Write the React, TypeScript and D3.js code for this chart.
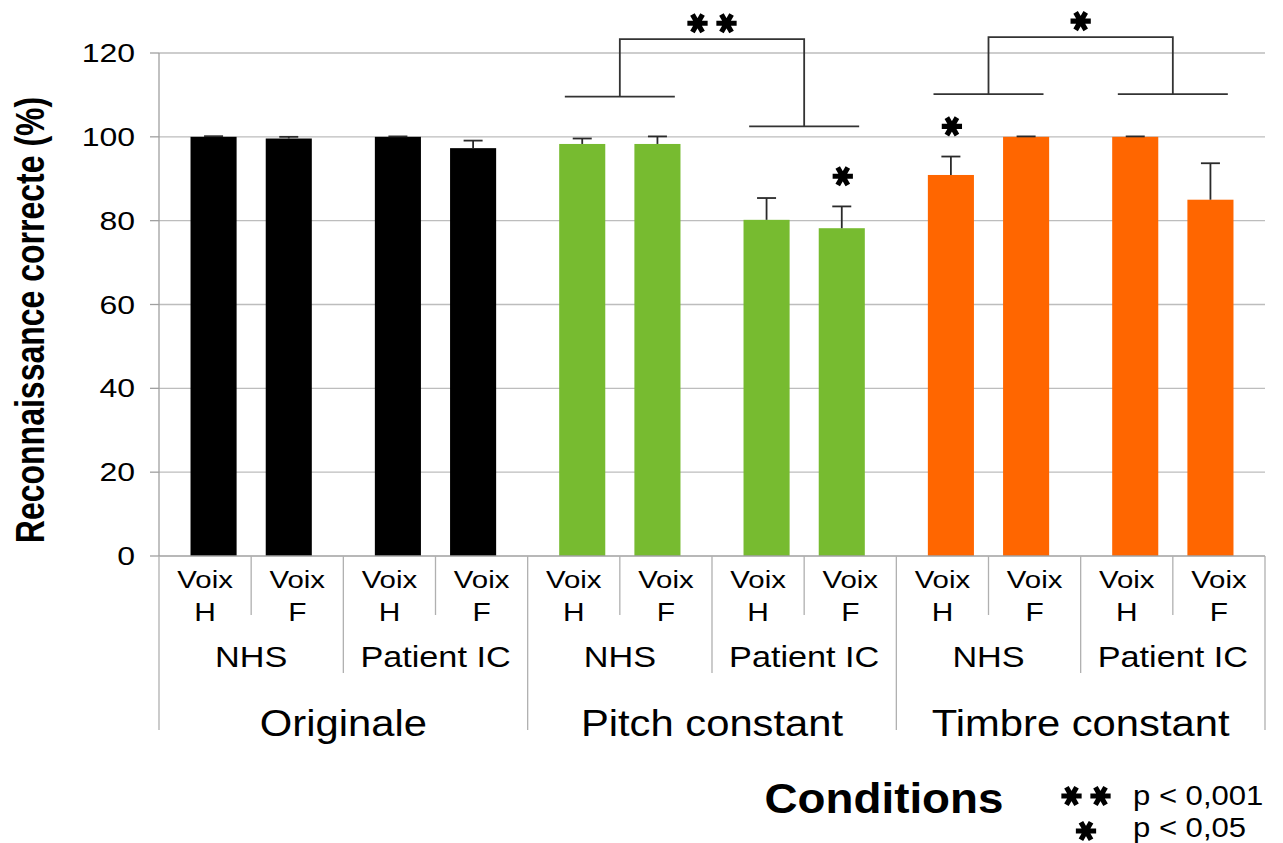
import React from 'react';
import * as d3 from 'd3';

const conditions = ['Originale', 'Pitch constant', 'Timbre constant'];
const populations = ['NHS', 'Patient IC'];
const voices = ['H', 'F'];
const originaleMeans = [100, 99.6, 100, 97.3];
const originaleErrors = [0.15, 0.4, 0.1, 1.8];
const pitchMeans = [98.3, 98.3, 80.2, 78.2];
const pitchErrors = [1.3, 1.8, 5.2, 5.2];
const timbreMeans = [90.9, 100, 100, 85.0];
const timbreErrors = [4.4, 0.1, 0.1, 8.7];
const yTicks = [0, 20, 40, 60, 80, 100, 120];
const conditionColors = ['#000000', '#77bb30', '#ff6600'];
const brackets = [
  { condition: 'Pitch constant', left: 109.6, right: 102.5, top: 123.3, mark: 2 },
  { condition: 'Timbre constant', left: 110.2, right: 110.2, top: 123.8, mark: 1 },
];
const barStars = [
  { condition: 'Pitch constant', population: 'Patient IC', voice: 'F' },
  { condition: 'Timbre constant', population: 'NHS', voice: 'H' },
];
const legendItems = [
  { mark: 2, text: 'p < 0,001' },
  { mark: 1, text: 'p < 0,05' },
];

const FONT = '"Liberation Sans", Arial, Helvetica, sans-serif';

const meansBy = [originaleMeans, pitchMeans, timbreMeans];
const errorsBy = [originaleErrors, pitchErrors, timbreErrors];

type Row = { condition: string; population: string; voice: string; mean: number; err: number; color: string };
const rows: Row[] = [];
conditions.forEach((c, ci) =>
  populations.forEach((p, pi) =>
    voices.forEach((v, vi) => {
      rows.push({ condition: c, population: p, voice: v, mean: meansBy[ci][pi * 2 + vi], err: errorsBy[ci][pi * 2 + vi], color: conditionColors[ci] });
    })
  )
);

const X0 = 159;
const X1 = 1265;
const y = d3.scaleLinear().domain([0, 120]).range([556, 53]);
const pairKeys = conditions.flatMap((c) => populations.map((p) => `${c}|${p}`));
const catKeys = pairKeys.flatMap((k) => voices.map((v) => `${k}|${v}`));
const xCond = d3.scaleBand<string>().domain(conditions).range([X0, X1]);
const xPair = d3.scaleBand<string>().domain(pairKeys).range([X0, X1]);
const xCat = d3.scaleBand<string>().domain(catKeys).range([X0, X1]);
const pbw = xPair.bandwidth();
const barW = pbw * 0.25;
const pairCenter = (c: string, p: string) => (xPair(`${c}|${p}`) as number) + pbw / 2;
const barCenter = (c: string, p: string, v: string) => pairCenter(c, p) + (v === 'H' ? -1 : 1) * pbw * 0.204;

const starPath = d3.symbol().type(d3.symbolAsterisk).size(290)() as string;

function Star({ cx, cy }: { cx: number; cy: number }) {
  return (
    <path d={starPath} transform={`translate(${cx},${cy}) rotate(90)`} fill="none" stroke="#000" strokeWidth={5.2} />
  );
}

function Stars({ cx, cy, n }: { cx: number; cy: number; n: number }) {
  const gap = 29;
  return (
    <g>
      {d3.range(n).map((i) => (
        <Star key={i} cx={cx + (i - (n - 1) / 2) * gap} cy={cy} />
      ))}
    </g>
  );
}

function SText({ x, y: yy, sx = 1, size, anchor = 'middle', weight = 'normal', children }: any) {
  return (
    <text
      transform={`translate(${x},${yy}) scale(${sx},1)`}
      textAnchor={anchor}
      fontSize={size}
      fontWeight={weight}
      fontFamily={FONT}
      fill="#000"
    >
      {children}
    </text>
  );
}

export default function App() {
  const axisBottom = y(0);
  const boundaries = catKeys.map((k) => xCat(k) as number).concat([X1]);
  return (
    <svg width={1283} height={843} style={{ position: 'absolute', left: 0, top: 0, background: '#fff' }}>
      <rect width={1283} height={843} fill="#fff" />
      {/* gridlines */}
      {yTicks.filter((t) => t > 0).map((t) => (
        <line key={t} x1={X0} x2={X1} y1={y(t)} y2={y(t)} stroke="#bdbdbd" strokeWidth={1.3} />
      ))}
      {/* y axis */}
      <line x1={X0} x2={X0} y1={y(120)} y2={axisBottom} stroke="#a0a0a0" strokeWidth={1.3} />
      {yTicks.map((t) => (
        <g key={t}>
          <line x1={X0 - 9} x2={X0} y1={y(t)} y2={y(t)} stroke="#a0a0a0" strokeWidth={1.3} />
          <SText x={135} y={y(t) + 9} sx={1.28} size={25} anchor="end">{t}</SText>
        </g>
      ))}
      {/* bars */}
      {rows.map((r, i) => {
        const cx = barCenter(r.condition, r.population, r.voice);
        return <rect key={i} x={cx - barW / 2} y={y(r.mean)} width={barW} height={axisBottom - y(r.mean)} fill={r.color} />;
      })}
      {/* error bars */}
      {rows.map((r, i) => {
        const cx = barCenter(r.condition, r.population, r.voice);
        return (
          <g key={i} stroke="#2a2a2a" strokeWidth={1.8}>
            <line x1={cx} x2={cx} y1={y(r.mean)} y2={y(r.mean + r.err)} />
            <line x1={cx - 9.5} x2={cx + 9.5} y1={y(r.mean + r.err)} y2={y(r.mean + r.err)} />
          </g>
        );
      })}
      {/* x axis line */}
      <line x1={X0} x2={X1} y1={axisBottom} y2={axisBottom} stroke="#a0a0a0" strokeWidth={1.3} />
      {/* category separators */}
      {boundaries.map((bx, i) => {
        const len = i % 4 === 0 ? 174 : i % 2 === 0 ? 117 : 59;
        return <line key={i} x1={bx} x2={bx} y1={axisBottom} y2={axisBottom + len} stroke="#b0b0b0" strokeWidth={1.3} />;
      })}
      {/* voice labels */}
      {rows.map((r, i) => {
        const cx = (xCat(`${r.condition}|${r.population}|${r.voice}`) as number) + xCat.bandwidth() / 2;
        return (
          <g key={i}>
            <SText x={cx} y={588} sx={1.2} size={24.5}>Voix</SText>
            <SText x={cx} y={621} sx={1.15} size={26}>{r.voice}</SText>
          </g>
        );
      })}
      {/* population labels */}
      {conditions.flatMap((c) =>
        populations.map((p) => (
          <SText key={c + p} x={pairCenter(c, p)} y={667} sx={1.18} size={29}>{p}</SText>
        ))
      )}
      {/* condition labels */}
      {conditions.map((c) => (
        <SText key={c} x={(xCond(c) as number) + xCond.bandwidth() / 2} y={736} sx={1.16} size={36}>{c}</SText>
      ))}
      {/* axis titles */}
      <text
        transform={`translate(44,320) rotate(-90) scale(1,1.25)`}
        textAnchor="middle"
        fontSize={32}
        fontWeight="bold"
        fontFamily={FONT}
      >
        Reconnaissance correcte (%)
      </text>
      <SText x={884} y={813} sx={1.09} size={42} weight="bold">Conditions</SText>
      {/* significance brackets */}
      {brackets.map((b, i) => {
        const lx = pairCenter(b.condition, 'NHS');
        const rx = pairCenter(b.condition, 'Patient IC');
        const half = 55;
        return (
          <g key={i} fill="none" stroke="#333" strokeWidth={1.8}>
            <line x1={lx - half} x2={lx + half} y1={y(b.left)} y2={y(b.left)} />
            <line x1={rx - half} x2={rx + half} y1={y(b.right)} y2={y(b.right)} />
            <polyline points={`${lx},${y(b.left)} ${lx},${y(b.top)} ${rx},${y(b.top)} ${rx},${y(b.right)}`} />
            <Stars cx={(lx + rx) / 2} cy={y(b.top + 3.8)} n={b.mark} />
          </g>
        );
      })}
      {barStars.map((s, i) => {
        const r = rows.find((d) => d.condition === s.condition && d.population === s.population && d.voice === s.voice)!;
        return <Star key={i} cx={barCenter(r.condition, r.population, r.voice) + 1} cy={y(r.mean + r.err + 7.2)} />;
      })}
      {/* legend */}
      {legendItems.map((l, i) => (
        <g key={i}>
          <Stars cx={1086} cy={796 + i * 35} n={l.mark} />
          <SText x={1133} y={805 + i * 32} sx={1.15} size={27} anchor="start">{l.text}</SText>
        </g>
      ))}
    </svg>
  );
}
